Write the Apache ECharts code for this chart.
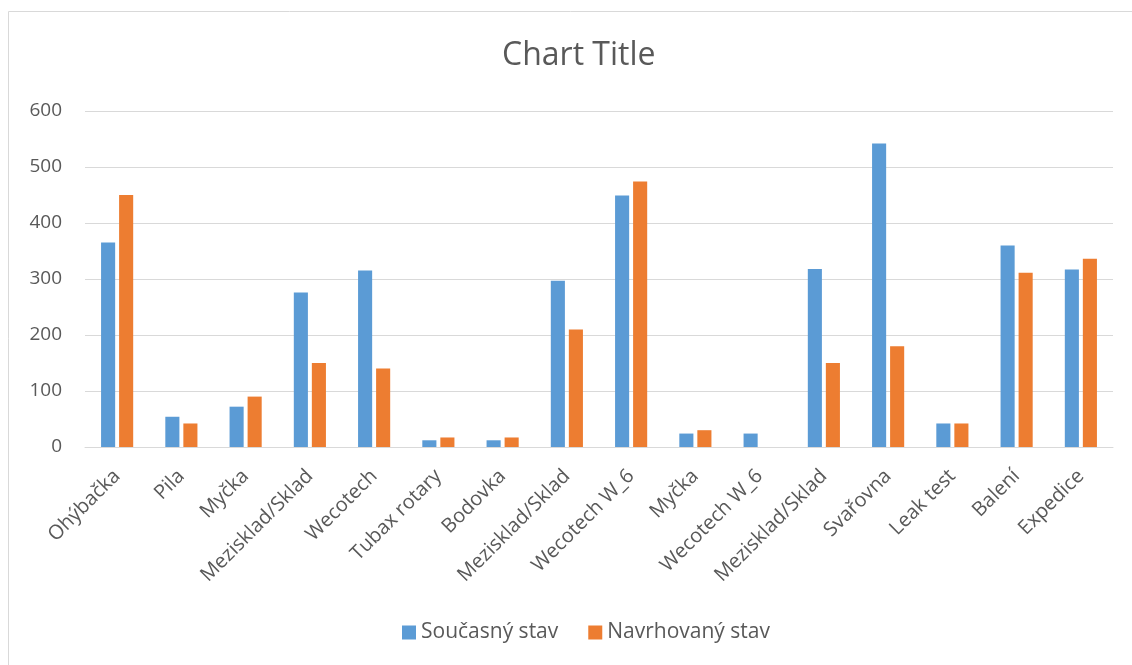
<!DOCTYPE html>
<html>
<head>
<meta charset="utf-8">
<script src="https://cdn.jsdelivr.net/npm/echarts@6/dist/echarts.min.js"></script>
<style>
  html, body { margin: 0; padding: 0; background: #fff; }
  #chart { width: 1132px; height: 665px; }
</style>
</head>
<body>
<div id="chart"></div>
<script>
// kategorie na ose x
const categories = ['Ohýbačka', 'Pila', 'Myčka', 'Mezisklad/Sklad', 'Wecotech', 'Tubax rotary',
    'Bodovka', 'Mezisklad/Sklad', 'Wecotech W_6', 'Myčka', 'Wecotech W_6', 'Mezisklad/Sklad',
    'Svařovna', 'Leak test', 'Balení', 'Expedice'];
// současný stav
const currentState = [365, 54, 72, 276, 315, 12, 12, 297, 449, 24, 24, 318, 542, 42, 360, 317];
// navrhovaný stav
const proposedState = [450, 42, 90, 150, 140, 17, 17, 210, 474, 30, null, 150, 180, 42, 311, 336];
const yTicks = [0, 100, 200, 300, 400, 500, 600];

const textColor = '#595959';
const font = 'Open Sans';

let myChart = echarts.init(document.getElementById('chart'));
myChart.setOption({
    animation: false,
    graphic: [{
        type: 'rect',
        shape: {x: 8.5, y: 11.5, width: 1200, height: 800},
        style: {fill: 'none', stroke: '#D9D9D9', lineWidth: 1},
        silent: true
    }],
    title: {
        text: 'Chart Title',
        left: 497,
        top: 35,
        textStyle: {color: textColor, fontFamily: font, fontWeight: 'normal', fontSize: 32}
    },
    legend: {
        bottom: 17,
        left: 397,
        itemWidth: 14,
        itemHeight: 14,
        itemGap: 30,
        icon: 'rect',
        textStyle: {color: textColor, fontFamily: font, fontSize: 21}
    },
    grid: {left: 85, right: 19, top: 111, bottom: 218, containLabel: false},
    xAxis: {
        type: 'category',
        data: categories,
        axisLine: {lineStyle: {color: '#D9D9D9', width: 1}},
        axisTick: {show: false},
        axisLabel: {
            interval: 0,
            rotate: 45,
            margin: 26,
            color: textColor,
            fontFamily: font,
            fontSize: 20
        }
    },
    yAxis: {
        type: 'value',
        min: yTicks[0],
        max: yTicks[yTicks.length - 1],
        interval: 100,
        axisLine: {show: false},
        axisTick: {show: false},
        splitLine: {lineStyle: {color: '#D9D9D9', width: 1}},
        axisLabel: {margin: 23, color: textColor, fontFamily: font, fontSize: 19}
    },
    series: [
        {
            name: 'Současný stav',
            type: 'bar',
            data: currentState,
            barGap: '28%',
            barCategoryGap: '50%',
            itemStyle: {color: '#5B9BD5'}
        },
        {
            name: 'Navrhovaný stav',
            type: 'bar',
            data: proposedState,
            itemStyle: {color: '#ED7D31'}
        }
    ]
});
</script>
</body>
</html>
